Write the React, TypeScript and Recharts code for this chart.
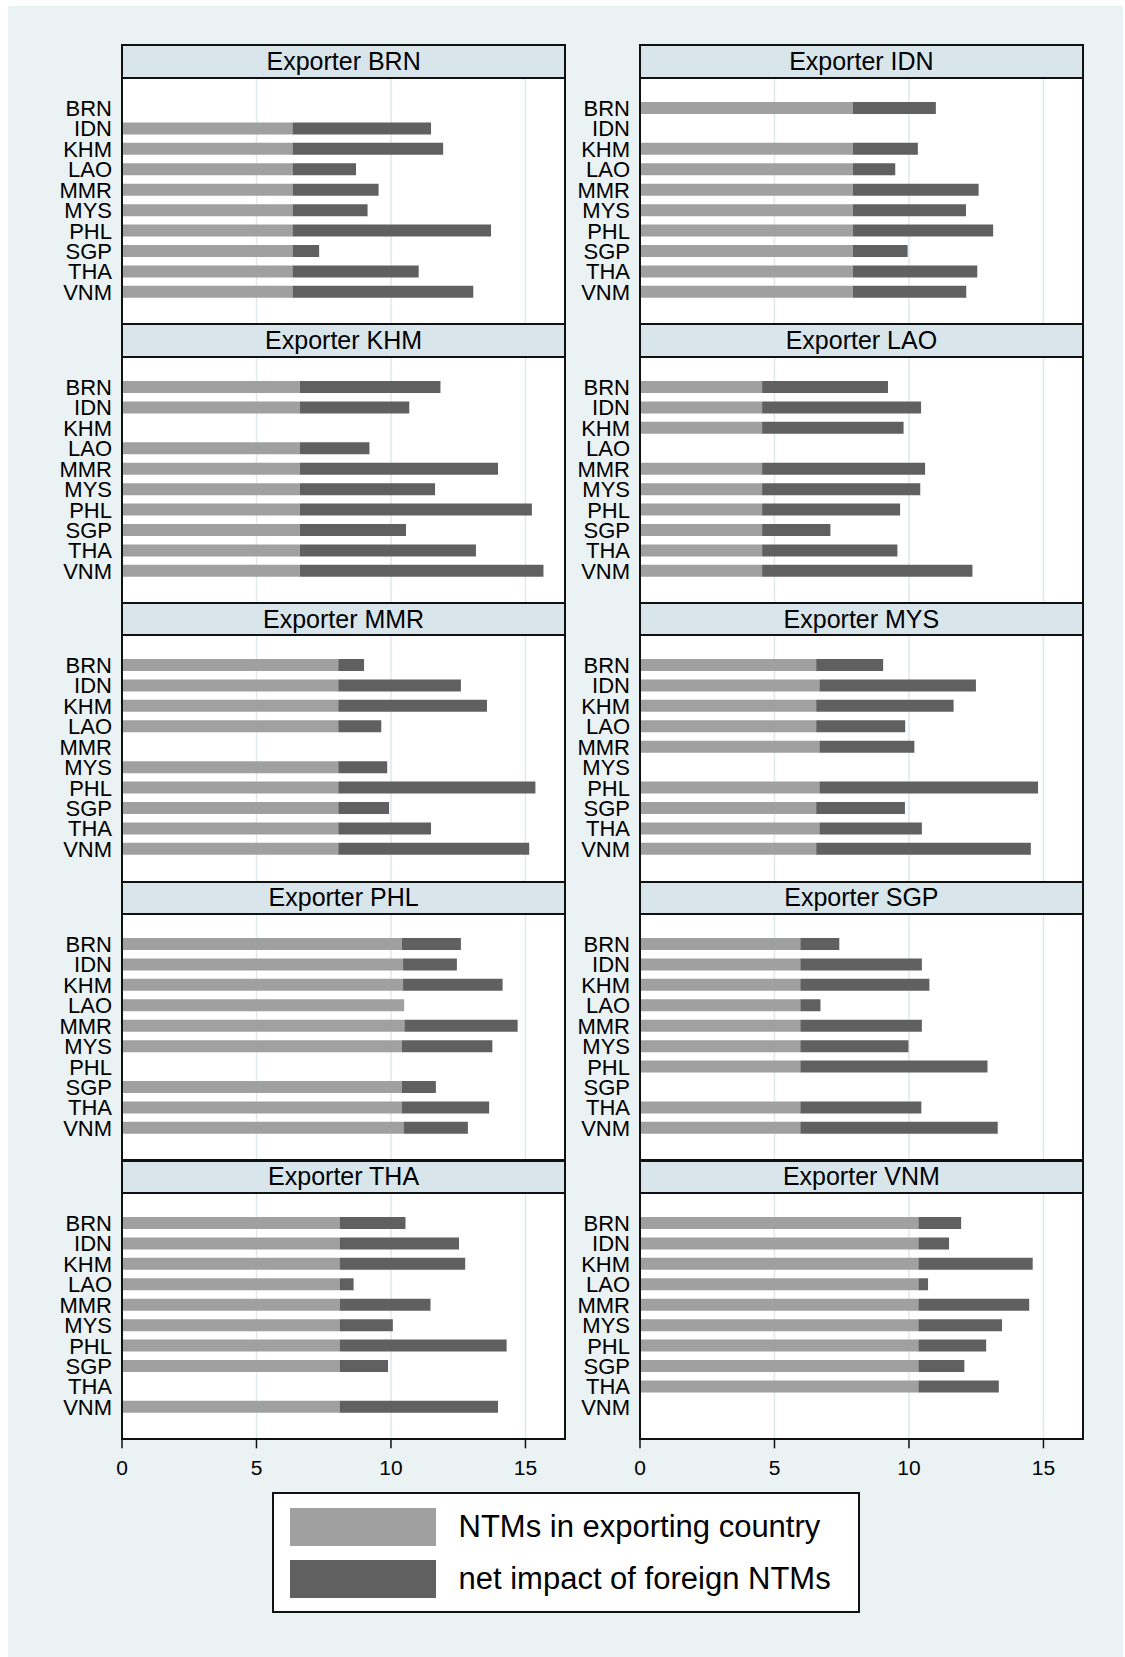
import { BarChart, Bar, XAxis, YAxis, CartesianGrid } from 'recharts';

const importers = ['BRN', 'IDN', 'KHM', 'LAO', 'MMR', 'MYS', 'PHL', 'SGP', 'THA', 'VNM'];
const xTicks = [0, 5, 10, 15];
const seriesNames = ['NTMs in exporting country', 'net impact of foreign NTMs'];

// own = NTMs in exporting country, net = net impact of foreign NTMs (null = exporter itself)
const ownBRN = [null, 6.34, 6.34, 6.34, 6.34, 6.34, 6.34, 6.34, 6.34, 6.34];
const netBRN = [null, 5.15, 5.6, 2.36, 3.2, 2.79, 7.38, 0.99, 4.69, 6.72];
const ownIDN = [7.92, null, 7.92, 7.92, 7.92, 7.92, 7.92, 7.92, 7.92, 7.92];
const netIDN = [3.08, null, 2.41, 1.57, 4.67, 4.2, 5.21, 2.03, 4.62, 4.21];
const ownKHM = [6.61, 6.61, null, 6.61, 6.61, 6.61, 6.61, 6.61, 6.61, 6.61];
const netKHM = [5.23, 4.07, null, 2.59, 7.37, 5.03, 8.63, 3.95, 6.55, 9.06];
const ownLAO = [4.54, 4.54, 4.54, null, 4.54, 4.54, 4.54, 4.54, 4.54, 4.54];
const netLAO = [4.68, 5.91, 5.26, null, 6.06, 5.88, 5.13, 2.54, 5.03, 7.82];
const ownMMR = [8.04, 8.04, 8.04, 8.04, null, 8.04, 8.04, 8.04, 8.04, 8.04];
const netMMR = [0.96, 4.56, 5.53, 1.6, null, 1.82, 7.33, 1.89, 3.45, 7.1];
const ownMYS = [6.55, 6.67, 6.55, 6.55, 6.67, null, 6.67, 6.55, 6.67, 6.55];
const netMYS = [2.49, 5.82, 5.11, 3.31, 3.53, null, 8.13, 3.3, 3.81, 7.98];
const ownPHL = [10.41, 10.45, 10.45, 10.49, 10.5, 10.41, null, 10.41, 10.41, 10.47];
const netPHL = [2.19, 2.0, 3.7, 0, 4.21, 3.36, null, 1.26, 3.24, 2.39];
const ownSGP = [5.96, 5.96, 5.96, 5.96, 5.96, 5.96, 5.96, null, 5.96, 5.96];
const netSGP = [1.45, 4.52, 4.8, 0.75, 4.52, 4.02, 6.96, null, 4.5, 7.34];
const ownTHA = [8.09, 8.09, 8.09, 8.09, 8.09, 8.09, 8.09, 8.09, null, 8.09];
const netTHA = [2.45, 4.44, 4.67, 0.52, 3.38, 1.98, 6.21, 1.8, null, 5.89];
const ownVNM = [10.35, 10.35, 10.35, 10.35, 10.35, 10.35, 10.35, 10.35, 10.35, null];
const netVNM = [1.59, 1.14, 4.25, 0.36, 4.12, 3.11, 2.52, 1.71, 2.99, null];

const panels = [
  { name: 'BRN', own: ownBRN, net: netBRN },
  { name: 'IDN', own: ownIDN, net: netIDN },
  { name: 'KHM', own: ownKHM, net: netKHM },
  { name: 'LAO', own: ownLAO, net: netLAO },
  { name: 'MMR', own: ownMMR, net: netMMR },
  { name: 'MYS', own: ownMYS, net: netMYS },
  { name: 'PHL', own: ownPHL, net: netPHL },
  { name: 'SGP', own: ownSGP, net: netSGP },
  { name: 'THA', own: ownTHA, net: netTHA },
  { name: 'VNM', own: ownVNM, net: netVNM },
];

const FONT = '"Liberation Sans", Arial, Helvetica, sans-serif';
const LIGHT = '#a0a0a0';
const DARK = '#606060';
const BG = '#eaf2f3';
const STRIP = '#d8e5ea';

const colX = [121.7, 639.5];
const plotW = 443.8;
const rowY0 = 45.3;
const rowPitch = 278.8;
const titleH = 32.5;
const plotH = 246.3;
const labelW = 110;
const axisH = 40;

// empty tick for panels that show no x labels (keeps ticks for the grid)
const NoTick = () => <g />;

function Panel({ idx }: { idx: number }) {
  const p = panels[idx];
  const col = idx % 2;
  const row = Math.floor(idx / 2);
  const isBottom = row === 4;
  const left = colX[col];
  const top = rowY0 + row * rowPitch;
  const plotTop = top + titleH;
  const data = importers.map((imp, i) => ({ imp, own: p.own[i], net: p.net[i] }));

  return (
    <>
      <div
        style={{
          position: 'absolute',
          left: left - 1,
          top: top - 1,
          width: plotW + 2,
          height: titleH + 2,
          boxSizing: 'border-box',
          border: '2px solid #111',
          background: STRIP,
          fontFamily: FONT,
          fontSize: 25,
          color: '#000',
          display: 'flex',
          alignItems: 'center',
          justifyContent: 'center',
        }}
      >
        Exporter {p.name}
      </div>
      <div
        style={{
          position: 'absolute',
          left,
          top: plotTop,
          width: plotW,
          height: plotH,
          background: '#fff',
        }}
      />
      <div style={{ position: 'absolute', left: left - labelW, top: plotTop }}>
        <BarChart
          width={labelW + plotW}
          height={plotH + (isBottom ? axisH : 0)}
          data={data}
          layout="vertical"
          margin={{ top: 0, right: 0, bottom: 0, left: 0 }}
        >
          <CartesianGrid horizontal={false} stroke="#dfe9ec" strokeWidth={1.5} />
          <XAxis
            type="number"
            domain={[0, 16.5]}
            ticks={xTicks}
            allowDataOverflow
            height={isBottom ? axisH : 0}
            axisLine={false}
            tickLine={isBottom ? { stroke: '#111', strokeWidth: 1.5 } : false}
            tick={isBottom ? { fill: '#000', fontSize: 21, fontFamily: FONT } : NoTick}
            tickSize={9}
            tickMargin={12}
          />
          <YAxis
            type="category"
            dataKey="imp"
            width={labelW}
            interval={0}
            axisLine={false}
            tickLine={false}
            tickSize={0}
            tickMargin={10}
            padding={{ top: 20, bottom: 22 }}
            tick={{ fill: '#000', fontSize: 22, fontFamily: FONT }}
          />
          <Bar dataKey="own" name={seriesNames[0]} stackId="a" fill={LIGHT} barSize={12} isAnimationActive={false} />
          <Bar dataKey="net" name={seriesNames[1]} stackId="a" fill={DARK} barSize={12} isAnimationActive={false} />
        </BarChart>
      </div>
      <div
        style={{
          position: 'absolute',
          left: left - 1,
          top: plotTop - 1,
          width: plotW + 2,
          height: plotH + 2,
          boxSizing: 'border-box',
          border: '2px solid #111',
          pointerEvents: 'none',
        }}
      />
    </>
  );
}

function Legend() {
  const swatch = (color: string, y: number) => (
    <div
      style={{
        position: 'absolute',
        left: 16,
        top: y,
        width: 146,
        height: 38,
        background: color,
      }}
    />
  );
  const label = (text: string, y: number) => (
    <div
      style={{
        position: 'absolute',
        left: 185,
        top: y,
        height: 38,
        lineHeight: '38px',
        fontSize: 31,
        fontFamily: FONT,
        color: '#000',
        whiteSpace: 'nowrap',
      }}
    >
      {text}
    </div>
  );
  return (
    <div
      style={{
        position: 'absolute',
        left: 271.5,
        top: 1492,
        width: 588,
        height: 121,
        boxSizing: 'border-box',
        border: '2px solid #111',
        background: '#fff',
      }}
    >
      {swatch(LIGHT, 14)}
      {label(seriesNames[0], 14)}
      {swatch(DARK, 66)}
      {label(seriesNames[1], 66)}
    </div>
  );
}

export default function App() {
  return (
    <div
      style={{
        position: 'absolute',
        left: 0,
        top: 0,
        width: 1125,
        height: 1657,
        background: '#fff',
        overflow: 'hidden',
      }}
    >
      <div
        style={{
          position: 'absolute',
          left: 7.5,
          top: 5.5,
          width: 1115.5,
          height: 1651.5,
          background: BG,
        }}
      />
      {panels.map((_, i) => (
        <Panel key={i} idx={i} />
      ))}
      <Legend />
    </div>
  );
}
